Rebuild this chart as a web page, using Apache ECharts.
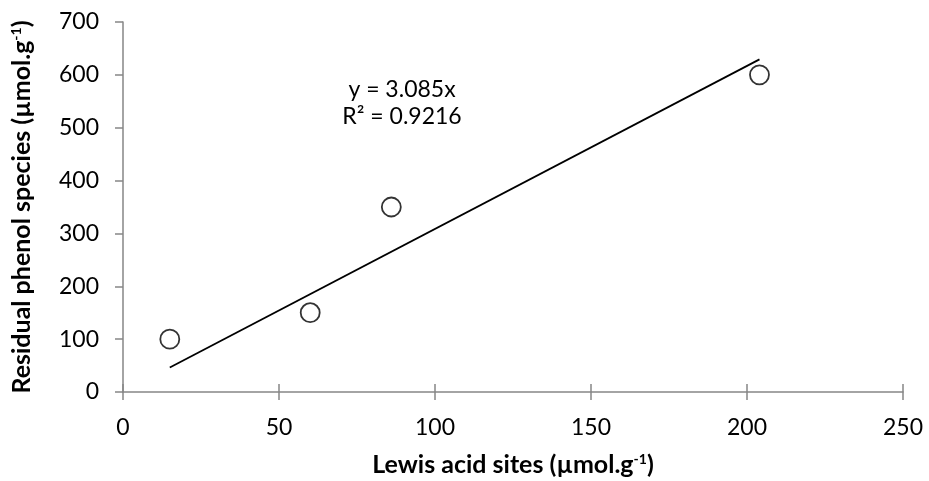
<!DOCTYPE html>
<html><head><meta charset="utf-8">
<script src="https://cdn.jsdelivr.net/npm/echarts@6/dist/echarts.min.js"></script>
<style>html,body{margin:0;padding:0;background:#fff}#c{width:929px;height:481px}</style>
</head><body><div id="c"></div>
<script>
const lewisAcid = [15, 60, 86, 204];
const residualPhenol = [100, 150, 350, 600];
const trendX = [15, 204];
const trendY = [46.3, 629.3];
const xTicks = [0, 50, 100, 150, 200, 250];
const yTicks = [0, 100, 200, 300, 400, 500, 600, 700];
const eqText = 'y = 3.085x';
const r2Text = 'R² = 0.9216';

const FONT = 'Lato, "Open Sans", sans-serif';
const axisColor = '#868686';
const chart = echarts.init(document.getElementById('c'));
const sup = {fontSize: 14, verticalAlign: 'top', padding: [0,0,10,0], fontWeight: 'bold', fontFamily: FONT, color: '#000'};
const nameStyle = {fontSize: 25, fontWeight: 'bold', fontFamily: FONT, color: '#000', rich: {s: sup}};

chart.setOption({
  animation: false,
  grid: {left: 123, right: 26, top: 22, bottom: 89, containLabel: false, outerBoundsMode: 'none'},
  xAxis: [{
    type: 'value', min: xTicks[0], max: xTicks[xTicks.length-1], interval: 50,
    axisLine: {show: true, lineStyle: {color: axisColor, width: 1.5}},
    axisTick: {show: true, length: 8, lineStyle: {color: axisColor, width: 1.5}},
    splitLine: {show: false},
    axisLabel: {fontSize: 23, fontFamily: FONT, color: '#000', margin: 24},
    name: 'Lewis acid sites (µmol.g{s|-1})', nameLocation: 'middle', nameGap: 60,
    nameTextStyle: nameStyle
  }, {
    type: 'value', position: 'bottom', min: xTicks[0], max: xTicks[xTicks.length-1], interval: 50,
    axisLine: {show: false},
    axisTick: {show: true, inside: true, length: 8, lineStyle: {color: axisColor, width: 1.5}},
    splitLine: {show: false}, axisLabel: {show: false}
  }],
  yAxis: {
    type: 'value', min: yTicks[0], max: yTicks[yTicks.length-1], interval: 100,
    axisLine: {show: true, lineStyle: {color: axisColor, width: 1.5}},
    axisTick: {show: true, length: 8, lineStyle: {color: axisColor, width: 1.5}},
    splitLine: {show: false},
    axisLabel: {fontSize: 23, fontFamily: FONT, color: '#000', margin: 24},
    name: 'Residual phenol species (µmol.g{s|-1})', nameLocation: 'middle', nameGap: 89,
    nameTextStyle: nameStyle
  },
  series: [{
    type: 'line', data: trendX.map((x, i) => [x, trendY[i]]),
    symbol: 'none', lineStyle: {color: '#000', width: 1.8}, silent: true
  }, {
    type: 'scatter', data: lewisAcid.map((x, i) => [x, residualPhenol[i]]),
    symbol: 'circle', symbolSize: 19,
    itemStyle: {color: '#fff', borderColor: '#000', borderWidth: 1.8}
  }],
  graphic: [{
    type: 'text', x: 402, y: 90,
    style: {text: eqText, fontSize: 23, fontFamily: FONT, fill: '#000', align: 'center', verticalAlign: 'middle'}
  }, {
    type: 'text', x: 402, y: 117,
    style: {text: r2Text, fontSize: 23, fontFamily: FONT, fill: '#000', align: 'center', verticalAlign: 'middle'}
  }]
});
</script></body></html>
